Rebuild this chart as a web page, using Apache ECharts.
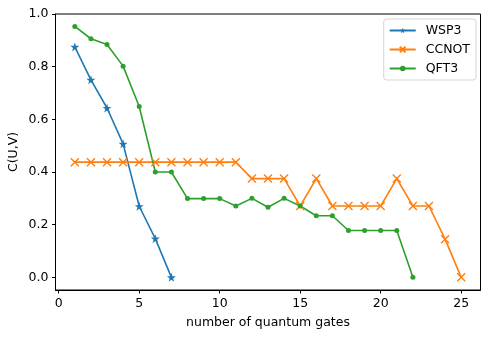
<!DOCTYPE html>
<html>
<head>
<meta charset="utf-8">
<script src="https://cdn.jsdelivr.net/npm/echarts@6/dist/echarts.min.js"></script>
<style>
  html, body { margin: 0; padding: 0; background: #fff; }
  #chart { width: 490px; height: 338px; }
</style>
</head>
<body>
<div id="chart"></div>
<script>
// values
const wspX = [1, 2, 3, 4, 5, 6, 7];
const wspY = [0.875, 0.75, 0.643, 0.507, 0.27, 0.147, 0.0];

const ccnotX = [1, 2, 3, 4, 5, 6, 7, 8, 9, 10, 11, 12, 13, 14, 15, 16, 17, 18, 19, 20, 21, 22, 23, 24, 25];
const ccnotY = [0.4375, 0.4375, 0.4375, 0.4375, 0.4375, 0.4375, 0.4375, 0.4375, 0.4375, 0.4375, 0.4375,
  0.375, 0.375, 0.375, 0.271, 0.375, 0.271, 0.271, 0.271, 0.271, 0.375, 0.271, 0.271, 0.145, 0.0];

const qftX = [1, 2, 3, 4, 5, 6, 7, 8, 9, 10, 11, 12, 13, 14, 15, 16, 17, 18, 19, 20, 21, 22];
const qftY = [0.953, 0.906, 0.884, 0.802, 0.649, 0.4, 0.4, 0.299, 0.299, 0.299, 0.271,
  0.3, 0.266, 0.3, 0.271, 0.234, 0.234, 0.178, 0.178, 0.178, 0.178, 0.0];

const xTicks = [0, 5, 10, 15, 20, 25];
const yTicks = [0, 0.2, 0.4, 0.6, 0.8, 1.0];

const starPath = 'path://M50,0L61.8,35.4L99,35.4L69,57.3L80.4,92.7L50,70.8L19.6,92.7L31,57.3L1,35.4L38.2,35.4Z';
const crossPath = 'path://M0,0L10,10M10,0L0,10';

const font = 'DejaVu Sans';
const fs = 12.5;
const pair = (xs, ys) => xs.map((x, i) => [x, ys[i]]);

const chart = echarts.init(document.getElementById('chart'), null, { renderer: 'canvas' });

const option = {
  animation: false,
  backgroundColor: '#fff',
  textStyle: { fontFamily: font },
  grid: {
    left: 55.5, right: 9.5, top: 14, bottom: 48,
    outerBoundsMode: 'none',
    show: true, borderColor: '#000', borderWidth: 1
  },
  legend: {
    orient: 'vertical',
    right: 14,
    top: 19,
    padding: [5, 6, 5, 5],
    itemGap: 6,
    itemWidth: 26,
    itemHeight: 7,
    backgroundColor: 'rgba(255,255,255,0.8)',
    borderColor: '#d5d5d5',
    borderWidth: 1,
    borderRadius: 3,
    textStyle: { fontFamily: font, fontSize: fs, color: '#000', padding: [0, 0, 0, 5] },
    data: ['WSP3', 'CCNOT', 'QFT3']
  },
  xAxis: {
    type: 'value',
    min: -0.2,
    max: 26.2,
    name: 'number of quantum gates',
    nameLocation: 'middle',
    nameGap: 26,
    nameMoveOverlap: false,
    nameTextStyle: { fontFamily: font, fontSize: fs, color: '#000' },
    splitLine: { show: false },
    axisLine: { onZero: false, lineStyle: { color: '#000', width: 1 } },
    axisTick: { show: true, length: 3.5, customValues: xTicks, lineStyle: { color: '#000' } },
    axisLabel: { customValues: xTicks, margin: 7, fontFamily: font, fontSize: fs, color: '#000' }
  },
  yAxis: {
    type: 'value',
    min: -0.048,
    max: 1.0,
    name: 'C(U,V)',
    nameLocation: 'middle',
    nameGap: 35,
    nameMoveOverlap: false,
    nameTextStyle: { fontFamily: font, fontSize: fs, color: '#000' },
    splitLine: { show: false },
    axisLine: { show: true, onZero: false, lineStyle: { color: '#000', width: 1 } },
    axisTick: { show: true, length: 3.5, customValues: yTicks, lineStyle: { color: '#000' } },
    axisLabel: {
      customValues: yTicks, margin: 7, fontFamily: font, fontSize: fs, color: '#000',
      formatter: v => v.toFixed(1)
    }
  },
  series: [
    {
      name: 'WSP3', type: 'line', data: pair(wspX, wspY),
      symbol: starPath, symbolSize: 9,
      lineStyle: { color: '#1f77b4', width: 1.6 },
      itemStyle: { color: '#1f77b4' }
    },
    {
      name: 'CCNOT', type: 'line', data: pair(ccnotX, ccnotY),
      symbol: crossPath, symbolSize: 8,
      lineStyle: { color: '#ff7f0e', width: 1.6 },
      itemStyle: { color: '#ff7f0e', borderColor: '#ff7f0e', borderWidth: 1.4 }
    },
    {
      name: 'QFT3', type: 'line', data: pair(qftX, qftY),
      symbol: 'circle', symbolSize: 5,
      lineStyle: { color: '#2ca02c', width: 1.6 },
      itemStyle: { color: '#2ca02c' }
    }
  ]
};

chart.setOption(option);
</script>
</body>
</html>
